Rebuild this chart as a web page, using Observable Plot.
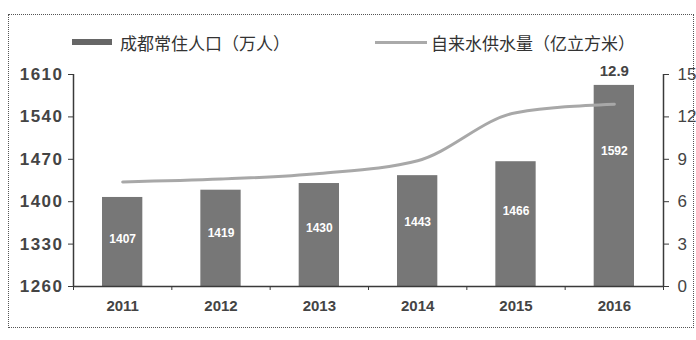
<!DOCTYPE html>
<html>
<head>
<meta charset="utf-8">
<script src="https://cdn.jsdelivr.net/npm/d3@7"></script>
<script src="https://cdn.jsdelivr.net/npm/@observablehq/plot@0.6"></script>
<style>
  html, body { margin: 0; padding: 0; background: #fff; }
  #wrap { position: relative; width: 696px; height: 340px; overflow: hidden; }
  #frame { position: absolute; left: 8px; top: 14px; width: 686px; height: 314px;
           border: 1px dotted #555; box-sizing: border-box; }
  .legend { position: absolute; top: 31px; height: 22px; display: flex; align-items: center;
            font-family: "Noto Sans CJK SC", sans-serif; color: #333; white-space: nowrap; }
  .legend .bar { width: 40px; height: 6px; background: #666; margin-right: 8px; }
  .legend .line { width: 52px; height: 3px; background: #aaa; margin-right: 4px; }
  #chart { position: absolute; left: 0; top: 0; }
</style>
</head>
<body>
<div id="wrap">
  <div id="frame"></div>
  <div id="chart"></div>
  <div class="legend" style="left:72px;font-size:17px;"><span class="bar"></span>成都常住人口（万人）</div>
  <div class="legend" style="left:375px;font-size:17px;"><span class="line"></span>自来水供水量（亿立方米）</div>
</div>
<script>
// Chengdu resident population (10k people) and tap-water supply (100M m³), 2011–2016
const years = [2011, 2012, 2013, 2014, 2015, 2016];
const population = [1407, 1419, 1430, 1443, 1466, 1592];
const waterSupply = [7.4, 7.6, 8.0, 8.9, 12.3, 12.9];
const popTicks = [1260, 1330, 1400, 1470, 1540, 1610];
const waterTicks = [0, 3, 6, 9, 12, 15];

const popMin = popTicks[0], popMax = popTicks[popTicks.length - 1];
const waterMax = waterTicks[waterTicks.length - 1];
// map the right-hand (water) axis onto the left-hand (population) scale
const toPop = w => popMin + w * (popMax - popMin) / waterMax;
const fromPop = p => (p - popMin) * waterMax / (popMax - popMin);

const data = years.map((year, i) => ({year, pop: population[i], water: waterSupply[i]}));
const boundaries = d3.range(years[0] - 0.5, years[years.length - 1] + 1, 1);
const halfBar = 0.205;
const axisColor = "#3a3a3a";
const numFont = "Liberation Sans, Arial, sans-serif";

const chart = Plot.plot({
  width: 696,
  height: 340,
  marginLeft: 73,
  marginRight: 33,
  marginTop: 74,
  marginBottom: 54,
  style: {fontFamily: numFont, color: axisColor, background: "transparent"},
  x: {domain: [years[0] - 0.5, years[years.length - 1] + 0.5]},
  y: {domain: [popMin, popMax]},
  marks: [
    Plot.rectY(data, {x1: d => d.year - halfBar, x2: d => d.year + halfBar, y1: popMin, y2: "pop", fill: "#777"}),
    Plot.text(data, {
      x: "year",
      y: d => 0.78 * d.pop + 241.5,
      text: d => String(d.pop),
      fill: "white",
      fontSize: 12,
      fontWeight: "bold"
    }),
    Plot.line(data, {x: "year", y: d => toPop(d.water), curve: "monotone-x", stroke: "#a8a8a8", strokeWidth: 3}),
    Plot.text(data.slice(-1), {
      x: "year",
      y: "pop",
      dy: -14,
      text: d => d.water.toFixed(1),
      fontSize: 15,
      fontWeight: "bold",
      fill: "#444"
    }),
    // axis lines
    Plot.ruleY([popMin], {stroke: axisColor, strokeWidth: 1.5}),
    Plot.ruleX([years[0] - 0.5, years[years.length - 1] + 0.5], {stroke: axisColor, strokeWidth: 1.5}),
    Plot.axisY({ticks: popTicks, tickFormat: "d", tickSize: 5, tickPadding: 5, stroke: axisColor, label: null}),
    Plot.axisY({
      anchor: "right",
      ticks: waterTicks.map(toPop),
      tickFormat: d => String(Math.round(fromPop(d))),
      tickSize: 5,
      tickPadding: 9,
      stroke: axisColor,
      label: null
    }),
    Plot.axisX({ticks: years, tickFormat: "d", tickSize: 0, tickPadding: 14, label: null}),
    Plot.axisX({ticks: boundaries, tickFormat: () => "", tickSize: 4, stroke: axisColor, label: null})
  ]
});

// larger, bolder tick labels
const yLabelGroups = d3.select(chart).selectAll('[aria-label="y-axis tick label"]').nodes();
d3.select(yLabelGroups[0]).selectAll("text")
  .style("font-size", "17px").style("font-weight", "bold").style("letter-spacing", "1.5px").style("fill", "#444");
d3.select(yLabelGroups[1]).selectAll("text")
  .style("font-size", "17px").style("fill", "#444");
d3.select(chart).selectAll('[aria-label="x-axis tick label"] text')
  .style("font-size", "15px").style("font-weight", "bold").style("fill", "#444");

document.getElementById("chart").appendChild(chart);
</script>
</body>
</html>
